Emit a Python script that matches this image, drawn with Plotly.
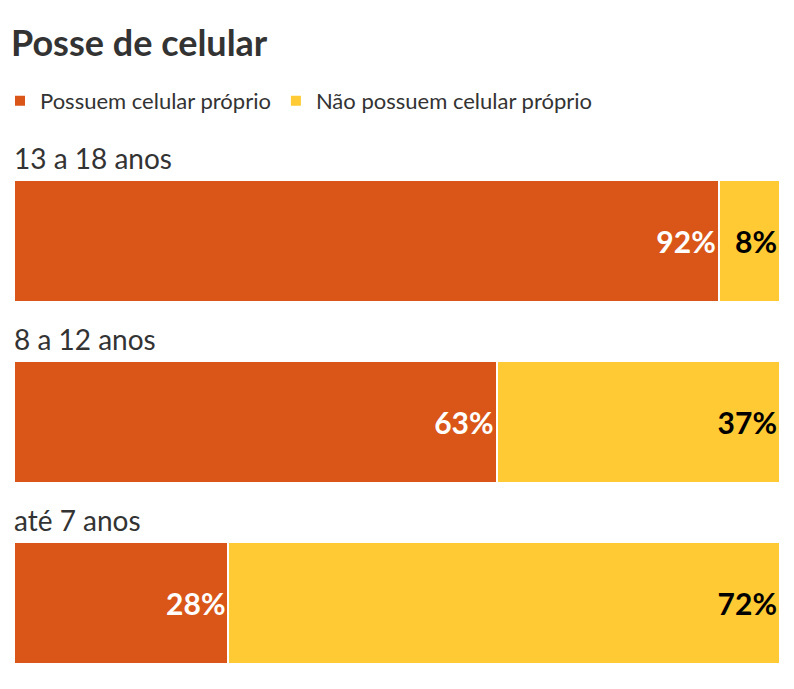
import plotly.graph_objects as go

# data
grupos = ["13 a 18 anos", "8 a 12 anos", "até 7 anos"]
possuem = [92, 63, 28]
nao_possuem = [8, 37, 72]

laranja = "#D95618"
amarelo = "#FFCA33"
fonte = "Lato"

pos = list(range(len(grupos)))

fig = go.Figure()
fig.add_trace(go.Bar(
    y=pos, x=possuem, orientation="h", name="Possuem celular próprio",
    marker=dict(color=laranja, line=dict(color="white", width=2)),
    text=[f"{v}%" for v in possuem], textposition="inside",
    insidetextanchor="end",
    textfont=dict(family=fonte, size=30, color="white", weight="bold"),
    width=0.674, hoverinfo="skip",
))
fig.add_trace(go.Bar(
    y=pos, x=nao_possuem, orientation="h", name="Não possuem celular próprio",
    marker=dict(color=amarelo, line=dict(color="white", width=2)),
    text=[f"{v}%" for v in nao_possuem], textposition="inside",
    insidetextanchor="end",
    textfont=dict(family=fonte, size=30, color="black", weight="bold"),
    width=0.674, hoverinfo="skip",
))

# row labels above each bar
for i, g in enumerate(grupos):
    fig.add_annotation(
        x=0, y=i - 0.355, xref="x", yref="y", text=g, showarrow=False,
        xanchor="left", yanchor="bottom", xshift=-2,
        font=dict(family=fonte, size=28, color="#333333"),
    )

fig.update_layout(
    width=794, height=689,
    margin=dict(l=0, r=14, t=160, b=9),
    barmode="stack",
    plot_bgcolor="white", paper_bgcolor="white",
    font=dict(family=fonte, color="#333333"),
    title=dict(text="<b>Posse de celular</b>", x=0.0, xref="container", xanchor="left",
               y=1 - 43 / 689, yanchor="middle", pad=dict(l=11),
               font=dict(family=fonte, size=36, color="#333333")),
    showlegend=True,
    legend=dict(orientation="h", x=0, xanchor="left", y=(680 - 101) / 520, yanchor="middle",
                font=dict(family=fonte, size=22, color="#333333"),
                traceorder="normal", itemwidth=30),
    xaxis=dict(range=[0, 100], domain=[14 / 780, 1], visible=False, fixedrange=True),
    yaxis=dict(range=[2.4254, -0.4475], visible=False, fixedrange=True),
    uniformtext=dict(minsize=10, mode="show"),
)

fig.write_html("out.html", config={"displayModeBar": False},
               post_script="document.body.style.margin='0';")
